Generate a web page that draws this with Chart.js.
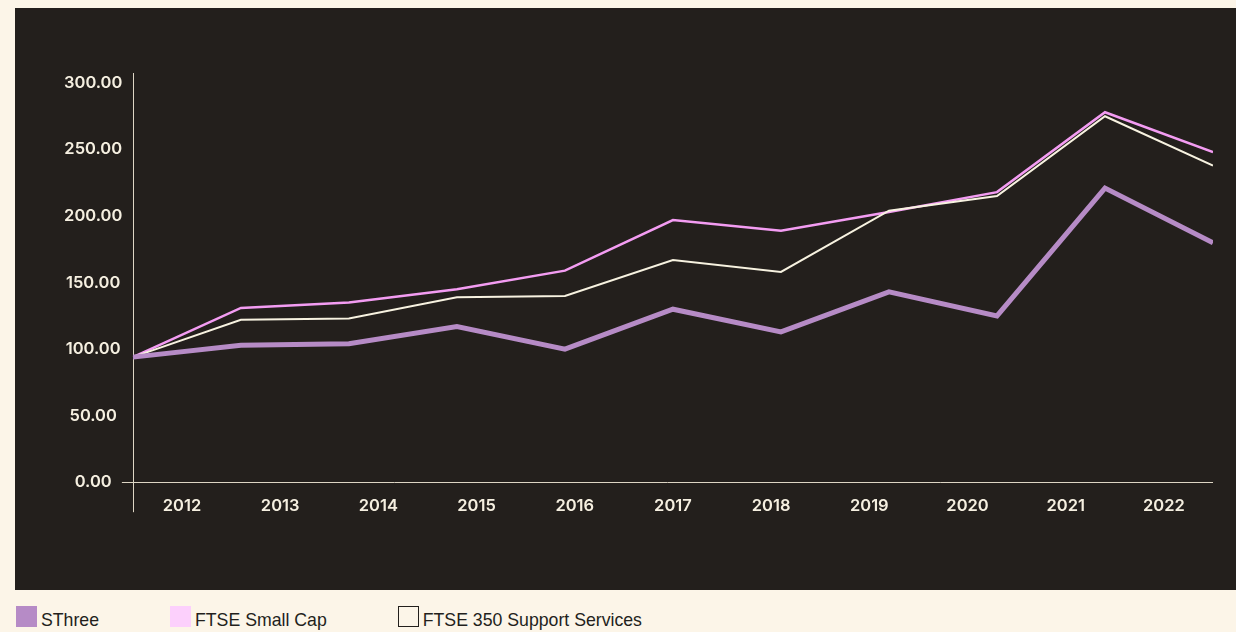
<!DOCTYPE html>
<html>
<head>
<meta charset="utf-8">
<script src="https://cdn.jsdelivr.net/npm/chart.js@4"></script>
<style>
  body { margin: 0; background: #fcf5e8; width: 1236px; height: 632px; overflow: hidden; position: relative; font-family: "Liberation Sans", Arial, sans-serif; }
  #panel { position: absolute; left: 15px; top: 8px; width: 1221px; height: 582px; background: #231f1c; }
  #legend { position: absolute; left: 16px; top: 606px; display: flex; gap: 71px; font-size: 17.7px; color: #231f1c; }
  .item { display: flex; align-items: flex-start; }
  .box { width: 21px; height: 21px; margin-right: 4px; box-sizing: border-box; }
  .item span { line-height: 1; padding-top: 6px; }
</style>
</head>
<body>
<div id="panel"><canvas id="chart" width="1221" height="582"></canvas></div>
<div id="legend"></div>
<script>
// Datos del gráfico
const years = ["2012", "2013", "2014", "2015", "2016", "2017", "2018", "2019", "2020", "2021", "2022"];
const sthree = [94, 103, 104, 117, 100, 130, 113, 143, 125, 221, 180];
const ftseSmallCap = [94, 131, 135, 145, 159, 197, 189, 203, 218, 278, 248];
const ftse350Support = [94, 122, 123, 139, 140, 167, 158, 204, 215, 275, 238];
const yTicks = [0, 50, 100, 150, 200, 250, 300];

const seriesNames = ["SThree", "FTSE Small Cap", "FTSE 350 Support Services"];
const lineColors = ["#b68bc6", "#f39cf2", "#f7f2e0"];
const boxStyles = ["background:#b68bc6", "background:#fcd0fc", "background:#fcf5e8;border:1.5px solid #231f1c"];

// Leyenda en HTML
const legend = document.getElementById("legend");
seriesNames.forEach((name, i) => {
    const item = document.createElement("div");
    item.className = "item";
    item.innerHTML = `<div class="box" style="${boxStyles[i]}"></div><span>${name}</span>`;
    legend.appendChild(item);
});

function points(arr) {
    return arr.map((v, i) => ({ x: i, y: v }));
}

// Líneas de los ejes que sobresalen del área del gráfico
const axisLines = {
    id: "axisLines",
    beforeDatasetsDraw(chart) {
        const { ctx, chartArea } = chart;
        const y0 = chart.scales.y.getPixelForValue(0);
        ctx.save();
        ctx.strokeStyle = "#ddd5c4";
        ctx.lineWidth = 1;
        ctx.beginPath();
        ctx.moveTo(Math.round(chartArea.left) + 0.5, chartArea.top - 10);
        ctx.lineTo(Math.round(chartArea.left) + 0.5, chartArea.bottom + 30);
        ctx.moveTo(chartArea.left - 11, Math.round(y0) + 0.5);
        ctx.lineTo(chartArea.right, Math.round(y0) + 0.5);
        ctx.stroke();
        ctx.restore();
    }
};

const tickFont = { family: "Inter", weight: "600", size: 16.5 };

const ctx = document.getElementById("chart").getContext("2d");
new Chart(ctx, {
    type: "line",
    data: {
        labels: years,
        datasets: [
            { label: seriesNames[0], data: points(sthree), borderColor: lineColors[0], borderWidth: 5, order: 0 },
            { label: seriesNames[1], data: points(ftseSmallCap), borderColor: lineColors[1], borderWidth: 2.5, order: 2 },
            { label: seriesNames[2], data: points(ftse350Support), borderColor: lineColors[2], borderWidth: 2, order: 1 }
        ].map(d => Object.assign(d, { xAxisID: "x2", pointRadius: 0, tension: 0, fill: false, borderJoinStyle: "miter" }))
    },
    options: {
        responsive: false,
        animation: false,
        devicePixelRatio: 1,
        layout: { padding: { left: 46.5, top: 75, right: 23, bottom: 68 } },
        plugins: { legend: { display: false }, tooltip: { enabled: false } },
        scales: {
            x: {
                type: "category",
                offset: true,
                grid: { display: false },
                border: { display: false },
                ticks: { color: "#f5efe0", padding: 6, font: tickFont }
            },
            x2: { type: "linear", min: 0, max: 10, display: false },
            y: {
                min: 0,
                max: 300,
                afterBuildTicks: scale => { scale.ticks = yTicks.map(v => ({ value: v })); },
                grid: { display: false },
                border: { display: false },
                ticks: {
                    color: "#f5efe0",
                    crossAlign: "center",
                    padding: 2.5,
                    font: tickFont,
                    callback: v => Number(v).toFixed(2)
                }
            }
        }
    },
    plugins: [axisLines]
});
</script>
</body>
</html>
